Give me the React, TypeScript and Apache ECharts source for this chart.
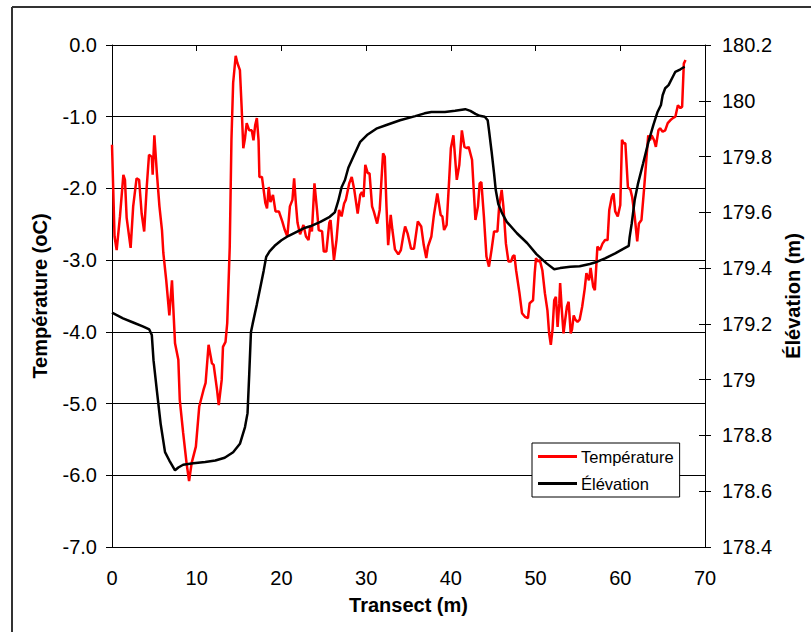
import React, { useEffect, useRef } from "react";
import * as echarts from "echarts";

const xTicks = [0, 10, 20, 30, 40, 50, 60, 70];

const tempX = [
  0.0, 0.3, 0.55, 0.94, 1.34, 1.53, 1.73, 2.2, 2.5, 2.9, 3.2, 3.5, 3.8, 4.1, 4.37, 4.7, 4.8, 5.0, 5.3, 5.6,
  5.9, 6.06, 6.4, 6.77, 7.08, 7.44, 7.83, 8.0, 8.4, 8.8, 9.1, 9.4, 9.9, 10.3, 10.8, 11.05, 11.4, 11.8, 12.0,
  12.4, 12.6, 12.95, 13.1, 13.4, 13.6, 13.9, 14.1, 14.3, 14.6, 14.8, 15.1, 15.3, 15.5, 15.7, 15.9, 16.2, 16.5,
  16.7, 16.9, 17.1, 17.3, 17.4, 17.7, 18.1, 18.3, 18.5, 18.7, 19.0, 19.3, 19.7, 20.1, 20.4, 20.7, 21.0, 21.3,
  21.5, 21.7, 21.9, 22.2, 22.6, 22.9, 23.2, 23.4, 23.6, 23.9, 24.2, 24.4, 24.8, 25.0, 25.3, 25.65, 25.8, 26.2,
  26.5, 26.8, 27.1, 27.4, 27.6, 28.0, 28.3, 28.6, 29.0, 29.3, 29.5, 29.7, 29.9, 30.2, 30.4, 30.7, 30.9, 31.3,
  31.6, 31.9, 32.0, 32.2, 32.4, 32.6, 32.9, 33.1, 33.4, 33.8, 34.1, 34.4, 34.6, 34.9, 35.3, 35.65, 36.1, 36.5,
  36.8, 37.1, 37.3, 37.7, 38.0, 38.4, 38.8, 39.0, 39.2, 39.5, 39.8, 40.0, 40.3, 40.7, 41.0, 41.3, 41.6, 41.9,
  42.1, 42.5, 42.9, 43.2, 43.4, 43.6, 43.9, 44.2, 44.5, 44.8, 45.1, 45.5, 45.7, 46.0, 46.2, 46.5, 46.8, 47.1,
  47.3, 47.5, 47.7, 48.1, 48.4, 48.75, 49.1, 49.3, 49.7, 49.9, 50.05, 50.25, 50.5, 50.8, 51.1, 51.4, 51.6,
  51.8, 52.0, 52.2, 52.4, 52.6, 52.8, 52.9, 53.1, 53.3, 53.5, 53.7, 53.9, 54.15, 54.3, 54.5, 54.7, 54.95, 55.2,
  55.5, 55.8, 56.0, 56.3, 56.5, 56.8, 57.0, 57.3, 57.6, 57.9, 58.2, 58.5, 58.7, 59.0, 59.2, 59.4, 59.7, 60.0,
  60.2, 60.4, 60.6, 60.9, 61.2, 61.4, 61.7, 62.0, 62.2, 62.5, 62.8, 63.1, 63.3, 63.5, 63.7, 64.0, 64.2, 64.5,
  64.7, 65.0, 65.3, 65.6, 65.9, 66.2, 66.5, 66.8, 67.1, 67.3, 67.5, 67.7,
];

const tempY = [
  -1.39, -2.67, -2.86, -2.39, -1.81, -1.88, -2.41, -2.83, -2.25, -1.86, -1.88, -2.35, -2.6, -1.98, -1.53, -1.56,
  -1.81, -1.26, -1.79, -2.25, -2.58, -2.9, -3.28, -3.77, -3.28, -4.16, -4.39, -4.95, -5.41, -5.83, -6.08, -5.83,
  -5.6, -5.04, -4.81, -4.71, -4.18, -4.44, -4.46, -4.81, -5.02, -4.67, -4.21, -4.14, -3.88, -2.81, -1.32, -0.53,
  -0.15, -0.25, -0.35, -0.86, -1.44, -1.3, -1.09, -1.19, -1.19, -1.33, -1.12, -1.02, -1.33, -1.84, -1.84, -2.2,
  -2.28, -1.98, -2.19, -2.09, -2.32, -2.32, -2.46, -2.58, -2.67, -2.25, -2.16, -1.86, -2.2, -2.48, -2.64, -2.51,
  -2.67, -2.72, -2.53, -2.6, -1.93, -2.3, -2.58, -2.6, -2.88, -2.88, -2.48, -2.44, -3.0, -2.72, -2.3, -2.39,
  -2.21, -2.16, -1.93, -1.84, -2.02, -2.35, -2.09, -2.05, -2.12, -1.67, -1.79, -1.79, -2.25, -2.32, -2.49, -2.3,
  -1.7, -1.51, -1.56, -2.25, -2.79, -2.37, -2.58, -2.85, -2.92, -2.86, -2.65, -2.53, -2.63, -2.84, -2.84, -2.46,
  -2.53, -2.79, -2.97, -2.81, -2.67, -2.37, -2.07, -2.37, -2.39, -2.58, -2.51, -1.88, -1.44, -1.26, -1.88, -1.67,
  -1.19, -1.42, -1.44, -1.42, -1.6, -2.44, -2.25, -1.93, -1.91, -2.39, -2.95, -3.09, -2.86, -2.6, -2.6, -2.25,
  -2.02, -2.25, -2.77, -3.02, -3.02, -2.95, -2.93, -3.14, -3.46, -3.74, -3.79, -3.81, -3.6, -3.56, -3.18, -2.97,
  -3.02, -3.0, -3.14, -3.46, -3.7, -4.02, -4.18, -3.97, -3.56, -3.51, -3.93, -3.6, -3.32, -3.7, -4.02, -3.83,
  -3.65, -3.58, -4.02, -3.97, -3.77, -3.83, -3.86, -3.83, -3.65, -3.4, -3.18, -3.28, -3.11, -3.37, -3.42, -2.81,
  -2.86, -2.77, -2.72, -2.72, -2.3, -2.12, -2.07, -2.32, -2.39, -2.23, -1.32, -1.37, -1.37, -1.98, -2.02, -2.12,
  -2.39, -2.74, -2.49, -2.44, -2.02, -1.56, -1.26, -1.33, -1.26, -1.33, -1.42, -1.19, -1.16, -1.21, -1.19, -1.09,
  -1.05, -1.02, -1.0, -0.84, -0.88, -0.86, -0.26, -0.21,
];

const elevX = [
  0, 1.3, 2.5, 3.7, 4.4, 4.7, 4.9, 5.3, 5.75, 6.26, 6.77, 7.44, 7.83, 8.4, 9.6, 11.0, 12.2, 13.3, 14.3, 15.1,
  15.7, 16.0, 16.2, 16.4, 16.6, 17.1, 17.5, 17.9, 18.2, 18.6, 19.2, 20.0, 20.8, 21.8, 22.8, 23.4, 24.6, 25.7,
  26.3, 26.7, 27.1, 27.5, 27.9, 28.5, 29.3, 30.1, 31.2, 32.4, 34.0, 35.8, 36.9, 37.7, 39.3, 40.5, 41.7, 42.3,
  42.9, 43.4, 44.0, 44.35, 44.5, 44.8, 45.1, 45.3, 45.6, 46.0, 46.6, 47.8, 49.0, 50.1, 51.3, 52.2, 52.9, 54.1,
  55.2, 56.4, 57.0, 58.2, 59.4, 60.4, 61.0, 61.1, 61.35, 61.7, 62.1, 62.7, 63.3, 63.9, 64.4, 64.8, 65.0, 65.3,
  65.7, 66.2, 66.5, 67.1, 67.6,
];

const elevY = [
  179.24, 179.22, 179.205, 179.19, 179.18, 179.16, 179.07, 178.96, 178.84, 178.74, 178.71, 178.675, 178.685,
  178.695, 178.7, 178.705, 178.71, 178.72, 178.74, 178.77, 178.83, 178.88, 179.02, 179.17, 179.2, 179.27, 179.33,
  179.39, 179.44, 179.46, 179.48, 179.5, 179.515, 179.53, 179.545, 179.55, 179.566, 179.584, 179.6, 179.64,
  179.69, 179.716, 179.76, 179.8, 179.853, 179.877, 179.9, 179.913, 179.93, 179.945, 179.955, 179.96, 179.96,
  179.964, 179.97, 179.964, 179.953, 179.946, 179.943, 179.93, 179.895, 179.82, 179.74, 179.68, 179.63, 179.6,
  179.566, 179.525, 179.49, 179.45, 179.417, 179.396, 179.4, 179.405, 179.407, 179.415, 179.42, 179.435, 179.453,
  179.47, 179.48, 179.51, 179.56, 179.644, 179.704, 179.776, 179.85, 179.913, 179.96, 179.985, 180.02, 180.045,
  180.056, 180.086, 180.104, 180.113, 180.122,
];

const seriesNames = ["Température", "Élévation"];
const axisTitles = { x: "Transect (m)", left: "Température (oC)", right: "Élévation (m)" };

const FONT = 'Arial, "Liberation Sans", Helvetica, sans-serif';
const LINE_ICON = "path://M0,0L39,0L39,3L0,3Z";

export default function App() {
  const ref = useRef<HTMLDivElement>(null);

  useEffect(() => {
    if (!ref.current) return;
    const chart = echarts.init(ref.current, null, { renderer: "svg" });
    const tempData = tempX.map((x, i) => [x, tempY[i]]);
    const elevData = elevX.map((x, i) => [x, elevY[i]]);
    const labelStyle = { color: "#000", fontSize: 20, fontFamily: FONT };
    const nameStyle = { color: "#000", fontSize: 20, fontWeight: "bold" as const, fontFamily: FONT };

    chart.setOption({
      animation: false,
      backgroundColor: "#fff",
      grid: { left: 112, right: 106, top: 45, bottom: 85, containLabel: false },
      legend: {
        data: [
          { name: seriesNames[0], icon: LINE_ICON, itemStyle: { color: "#ff0000" } },
          { name: seriesNames[1], icon: LINE_ICON, itemStyle: { color: "#000" } },
        ],
        orient: "vertical",
        left: 532,
        top: 443,
        itemWidth: 39,
        itemHeight: 18,
        itemGap: 10,
        padding: [5, 6, 5, 6],
        backgroundColor: "#fff",
        borderColor: "#000",
        borderWidth: 1,
        textStyle: { color: "#000", fontSize: 16.5, fontFamily: FONT, padding: [0, 0, 0, -1] },
      },
      xAxis: {
        type: "value",
        min: xTicks[0],
        max: xTicks[xTicks.length - 1],
        interval: 10,
        name: axisTitles.x,
        nameLocation: "middle",
        nameGap: 48,
        nameTextStyle: nameStyle,
        axisLine: { show: true, lineStyle: { color: "#000", width: 1 } },
        axisTick: { show: true, length: 6, lineStyle: { color: "#000" } },
        axisLabel: { ...labelStyle, margin: 21 },
        splitLine: { show: false },
      },
      yAxis: [
        {
          type: "value",
          min: -7,
          max: 0,
          interval: 1,
          position: "left",
          name: axisTitles.left,
          nameLocation: "middle",
          nameGap: 62,
          nameTextStyle: nameStyle,
          axisLine: { show: true, lineStyle: { color: "#000", width: 1 } },
          axisTick: { show: true, length: 6, lineStyle: { color: "#000" } },
          axisLabel: { ...labelStyle, margin: 15, formatter: (v: number) => v.toFixed(1) },
          splitLine: { show: true, lineStyle: { color: "#000", width: 1 } },
        },
        {
          type: "value",
          min: 178.4,
          max: 180.2,
          interval: 0.2,
          position: "right",
          name: axisTitles.right,
          nameLocation: "middle",
          nameGap: 70,
          nameTextStyle: nameStyle,
          axisLine: { show: true, lineStyle: { color: "#000", width: 1 } },
          axisTick: { show: true, length: 6, lineStyle: { color: "#000" } },
          axisLabel: {
            ...labelStyle,
            margin: 17,
            formatter: (v: number) => String(parseFloat(v.toFixed(1))),
          },
          splitLine: { show: false },
        },
        {
          type: "value",
          min: 178.4,
          max: 180.2,
          interval: 0.2,
          position: "right",
          axisLine: { show: false },
          axisTick: { show: true, inside: true, length: 6, lineStyle: { color: "#000" } },
          axisLabel: { show: false },
          splitLine: { show: false },
        },
      ],
      graphic: [
        { type: "line", shape: { x1: 12, y1: 7, x2: 12, y2: 632 }, style: { stroke: "#333", lineWidth: 2 } },
        { type: "line", shape: { x1: 12, y1: 7, x2: 811, y2: 7 }, style: { stroke: "#333", lineWidth: 2 } },
      ],
      series: [
        {
          name: seriesNames[0],
          type: "line",
          yAxisIndex: 0,
          data: tempData,
          symbol: "none",
          smooth: false,
          lineStyle: { color: "#ff0000", width: 2.5 },
          itemStyle: { color: "#ff0000" },
        },
        {
          name: seriesNames[1],
          type: "line",
          yAxisIndex: 1,
          data: elevData,
          symbol: "none",
          smooth: false,
          lineStyle: { color: "#000", width: 2.5 },
          itemStyle: { color: "#000" },
        },
      ],
    });
    return () => chart.dispose();
  }, []);

  return <div ref={ref} style={{ position: "absolute", left: 0, top: 0, width: 811, height: 632 }} />;
}
